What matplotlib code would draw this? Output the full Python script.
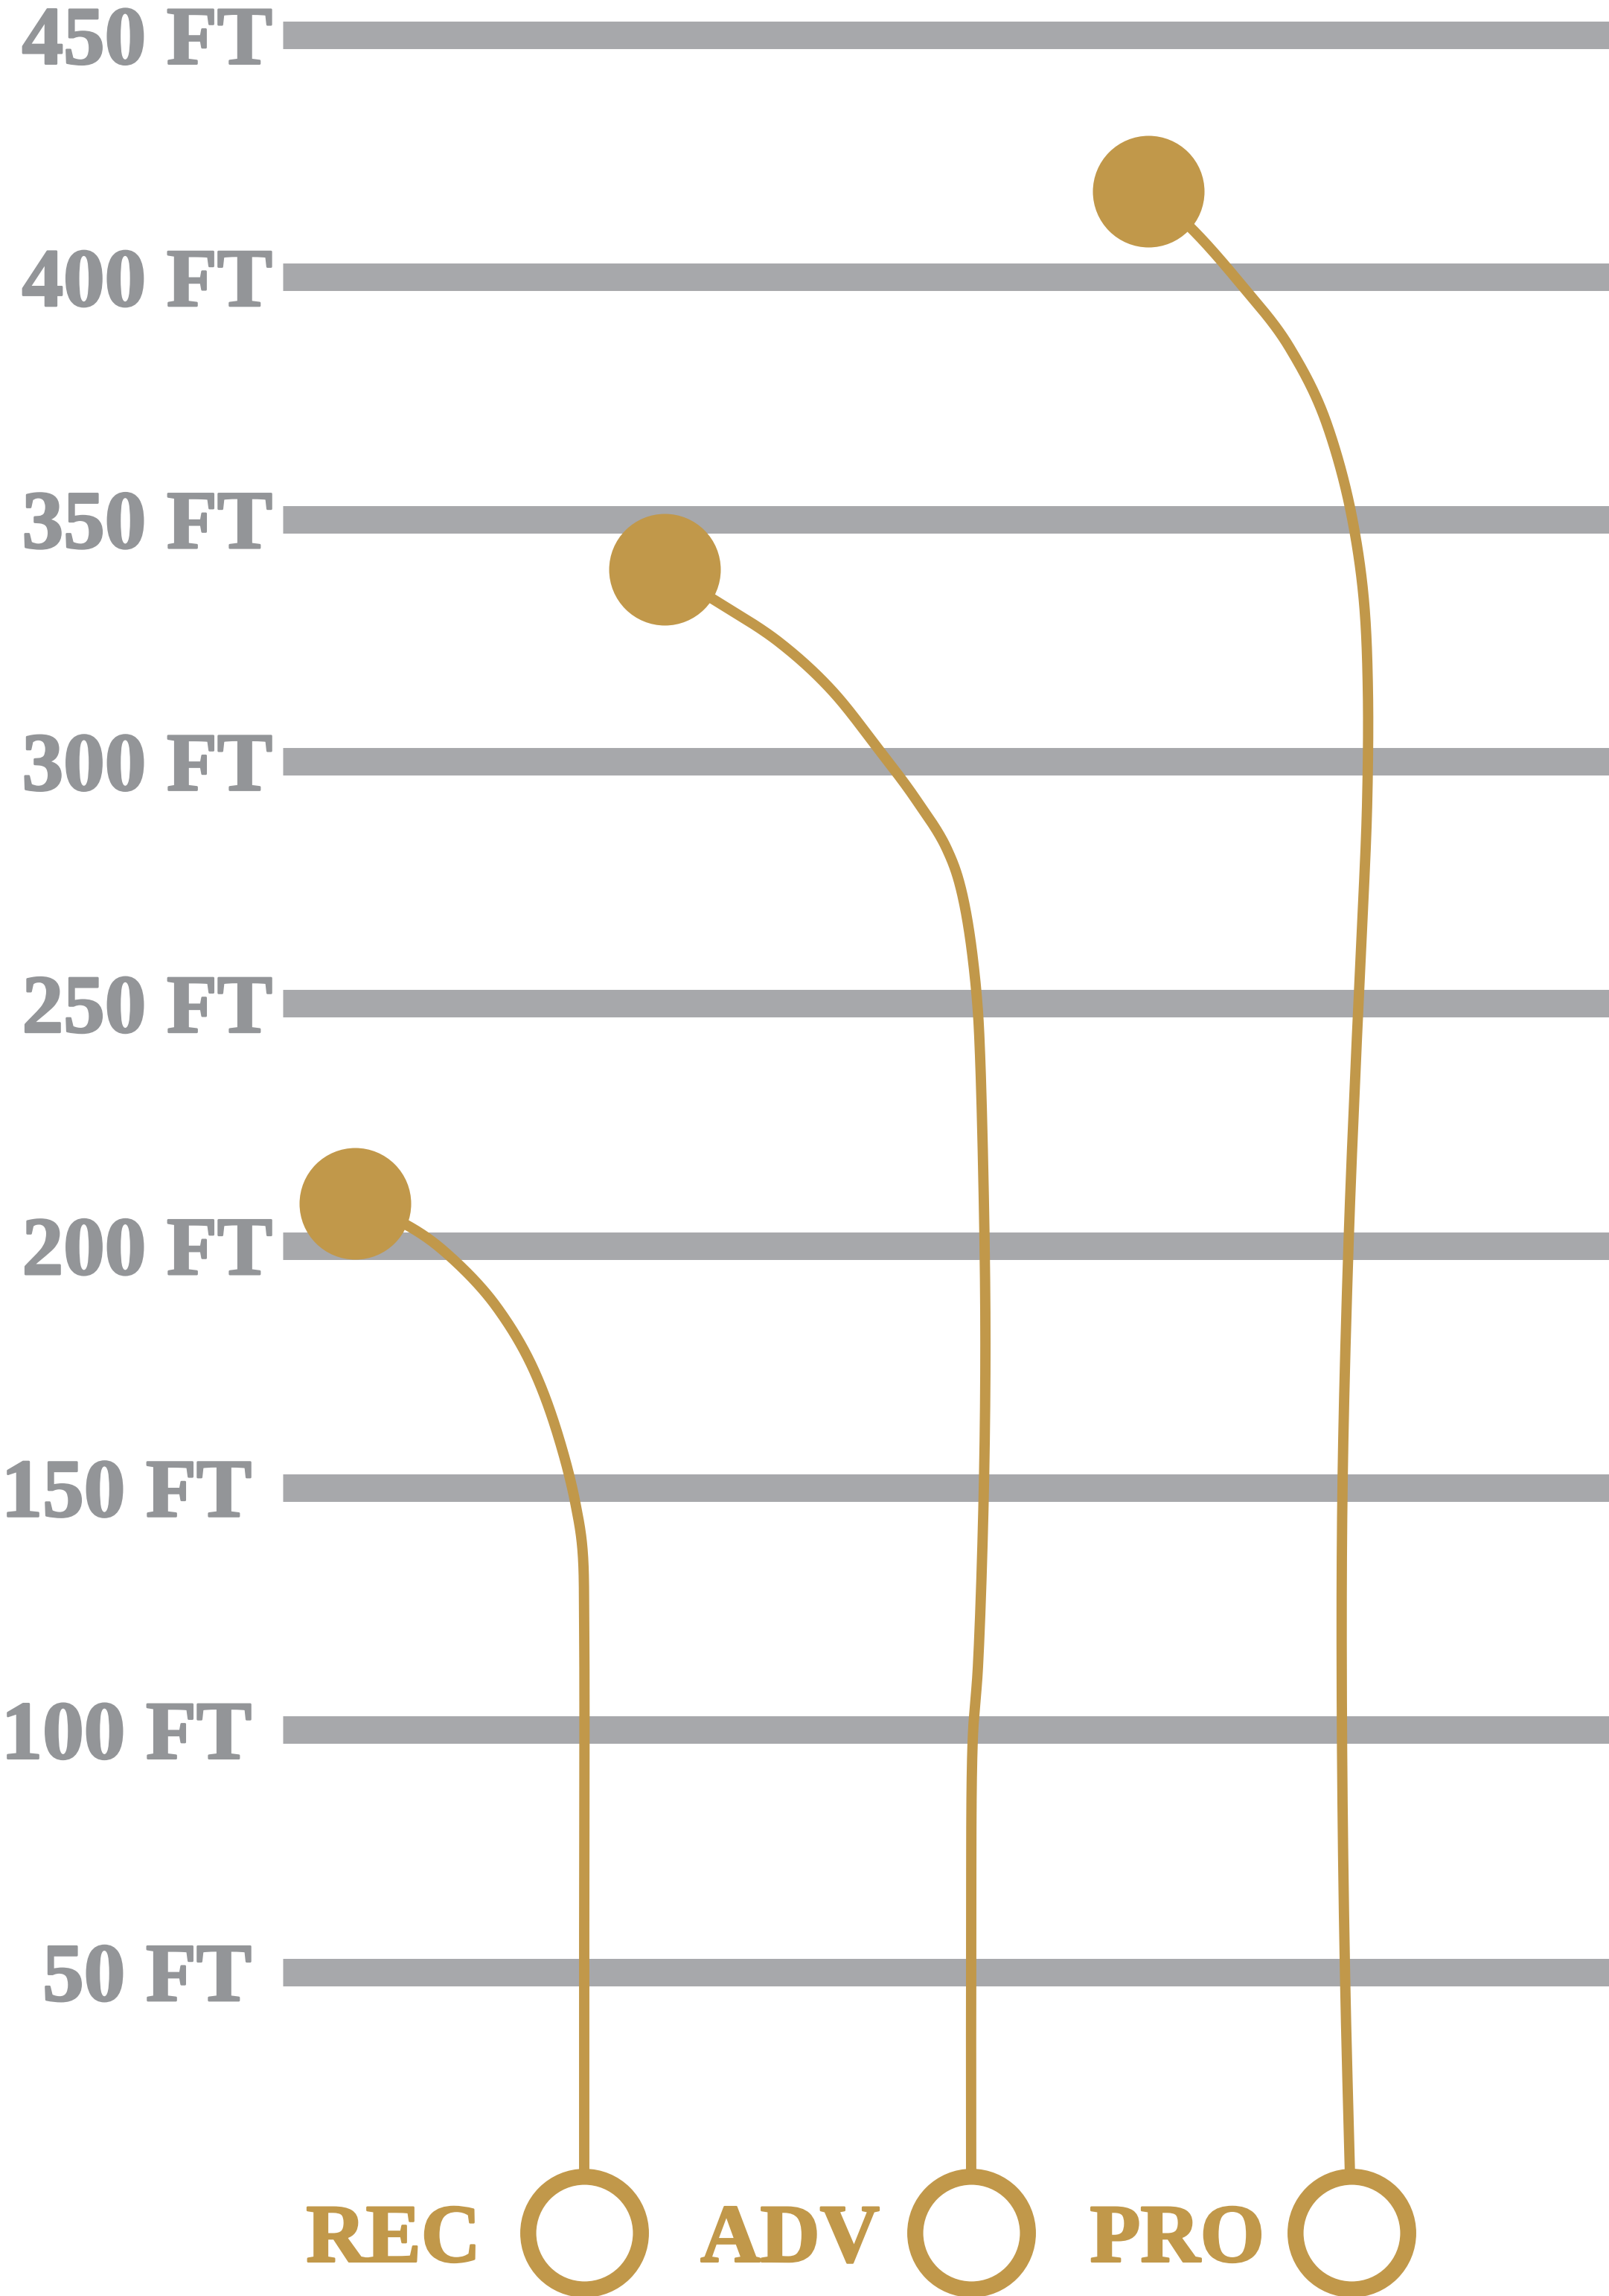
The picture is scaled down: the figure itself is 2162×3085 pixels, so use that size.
import matplotlib.pyplot as plt
import matplotlib.patheffects as pe
import numpy as np

# distance levels (ft) and labels
levels = [450, 400, 350, 300, 250, 200, 150, 100, 50]
level_labels = ['450 FT', '400 FT', '350 FT', '300 FT', '250 FT',
                '200 FT', '150 FT', '100 FT', '50 FT']

# categories: x position (px), top height (ft)
cats = ['REC', 'ADV', 'PRO']
cat_x = [785, 1305, 1816]
top_ft = [208.7, 339.6, 417.7]
top_x = [477, 893, 1543]
base_ft = -3.9

# trajectory waypoints (x px, height ft)
rec_x = [477, 547, 600, 667, 717, 750, 773, 783, 785, 785, 785]
rec_ft = [208.7, 204.2, 198.4, 187.4, 174.4, 160.7, 146.9, 136.6, 120.0, 60.0, -3.9]
adv_x = [893, 958, 1047, 1118, 1180, 1230, 1272, 1290, 1303, 1313, 1317, 1323, 1324,
         1321, 1314, 1307, 1305, 1305]
adv_ft = [339.6, 333.5, 324.6, 314.6, 302.6, 292.3, 282.0, 274.4, 264.1, 250.4, 238.9,
          200.2, 173.6, 143.2, 112.9, 97.7, 52.0, -3.9]
pro_x = [1543, 1600, 1667, 1733, 1783, 1817, 1833, 1838, 1837, 1830, 1823, 1812, 1804,
         1803, 1807, 1816]
pro_ft = [417.7, 410.2, 398.6, 385.4, 369.6, 350.1, 332.6, 314.9, 291.3, 265.0, 242.0,
          200.2, 150.9, 105.2, 52.0, -3.9]

gold = '#C1984A'
grey_line = '#A7A8AB'
grey_text = '#939598'


def smooth(xs, ys, n=40):
    # centripetal catmull-rom through the waypoints
    p = np.column_stack([xs, ys]).astype(float)
    p = np.vstack([2 * p[0] - p[1], p, 2 * p[-1] - p[-2]])
    out = []
    for i in range(1, len(p) - 2):
        p0, p1, p2, p3 = p[i - 1], p[i], p[i + 1], p[i + 2]
        t0 = 0.0
        t1 = t0 + np.linalg.norm(p1 - p0) ** 0.5
        t2 = t1 + np.linalg.norm(p2 - p1) ** 0.5
        t3 = t2 + np.linalg.norm(p3 - p2) ** 0.5
        t = np.linspace(t1, t2, n)[:, None]
        a1 = (t1 - t) / (t1 - t0) * p0 + (t - t0) / (t1 - t0) * p1
        a2 = (t2 - t) / (t2 - t1) * p1 + (t - t1) / (t2 - t1) * p2
        a3 = (t3 - t) / (t3 - t2) * p2 + (t - t2) / (t3 - t2) * p3
        b1 = (t2 - t) / (t2 - t0) * a1 + (t - t0) / (t2 - t0) * a2
        b2 = (t3 - t) / (t3 - t1) * a2 + (t - t1) / (t3 - t1) * a3
        c = (t2 - t) / (t2 - t1) * b1 + (t - t1) / (t2 - t1) * b2
        out.append(c)
    out = np.vstack(out)
    return out[:, 0], out[:, 1]


W, H = 2162, 3085
fig = plt.figure(figsize=(W / 100, H / 100), dpi=100)
ax = fig.add_axes([0, 0, 1, 1])
px_ft = 6.506
zero = 2974.8
ax.set_xlim(0, W)
ax.set_ylim(-(H - zero) / px_ft, zero / px_ft)
ax.axis('off')

# grid bars
for lv in levels:
    ax.plot([380, W], [lv, lv], color=grey_line, lw=26.6, solid_capstyle='butt', zorder=1)

# level labels
for lv, lab in zip(levels, level_labels):
    xr = 338 if lv <= 150 else 366
    ax.text(xr, lv, lab, ha='right', va='center_baseline', fontsize=80, fontweight='bold',
            family='Liberation Serif', color=grey_text, zorder=2,
            path_effects=[pe.withStroke(linewidth=2, foreground=grey_text)])

# trajectories
for xs, ys in [(rec_x, rec_ft), (adv_x, adv_ft), (pro_x, pro_ft)]:
    sx, sy = smooth(xs, ys)
    ax.plot(sx, sy, color=gold, lw=10, solid_capstyle='butt', zorder=3)

# balls at top
ax.plot(top_x, top_ft, 'o', color=gold, ms=108, mew=0, zorder=4)

# rings at bottom
ax.plot(cat_x, [base_ft] * 3, 'o', mfc='white', mec=gold, ms=109, mew=15.5, zorder=4)

# category labels
for xr, lab in zip([646, 1182, 1699], cats):
    ax.text(xr, base_ft, lab, ha='right', va='center_baseline', fontsize=80, fontweight='bold',
            family='Liberation Serif', color=gold, zorder=4,
            path_effects=[pe.withStroke(linewidth=2, foreground=gold)])

fig.savefig('out.png', dpi=100, facecolor='white')
